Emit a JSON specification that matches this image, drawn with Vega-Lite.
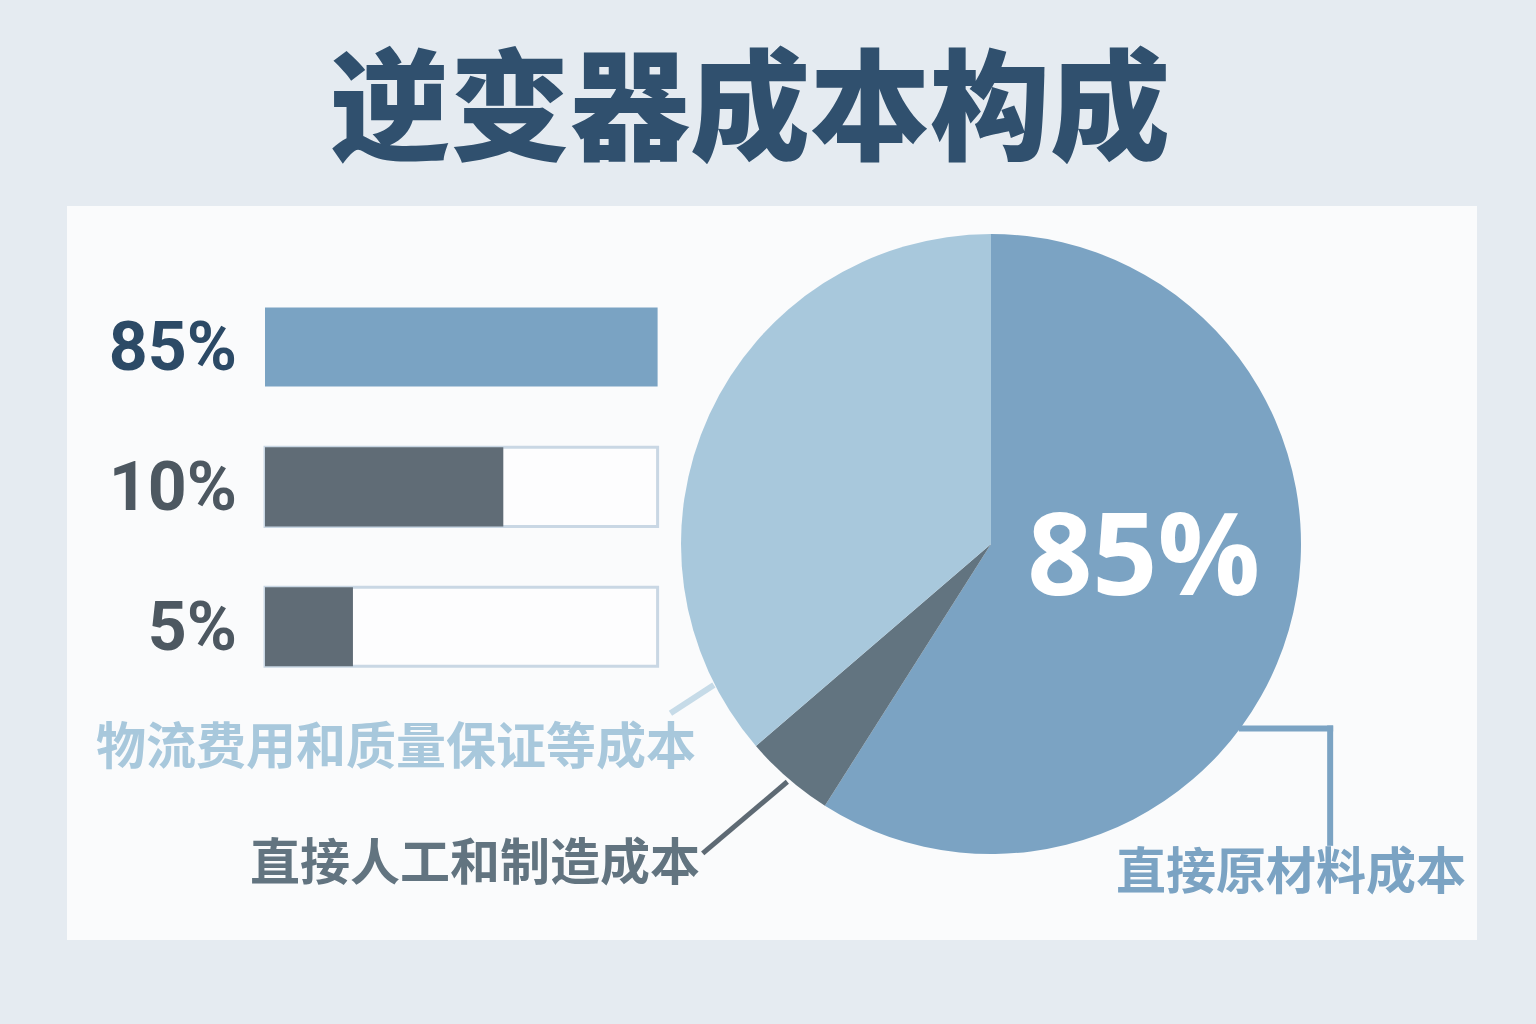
{
  "$schema": "https://vega.github.io/schema/vega-lite/v6.json",
  "background": "#e5ebf1",
  "padding": {"left": 67, "right": 59, "top": 0, "bottom": 84},
  "autosize": {"type": "pad"},
  "config": {"view": {"stroke": null}, "font": "Noto Sans CJK SC"},
  "datasets": {
    "costs": [
      {"part": "直接原材料成本", "stated": "85%", "rank": 1, "bar_fill": 1.0, "pie_share": 59.0},
      {"part": "直接人工和制造成本", "stated": "10%", "rank": 2, "bar_fill": 0.607, "pie_share": 4.7},
      {"part": "物流费用和质量保证等成本", "stated": "5%", "rank": 3, "bar_fill": 0.224, "pie_share": 36.3}
    ]
  },
  "spacing": 0,
  "bounds": "flush",
  "vconcat": [
    {
      "width": 1410,
      "height": 206,
      "data": {"values": [{"title": "逆变器成本构成"}]},
      "mark": {"type": "text", "font": "Noto Sans CJK SC", "fontWeight": 900, "fontSize": 120, "color": "#30506e", "align": "center", "baseline": "middle", "dx": -22, "dy": 12},
      "encoding": {"text": {"field": "title"}}
    },
    {
      "spacing": 0,
      "bounds": "flush",
      "hconcat": [
        {
          "width": 614,
          "height": 734,
          "view": {"fill": "#fafbfc"},
          "data": {"name": "costs"},
          "encoding": {
            "y": {
              "field": "stated",
              "type": "nominal",
              "axis": null,
              "scale": {"domain": ["85%", "10%", "5%"], "range": [71.1, 490.65], "paddingInner": 0.435, "paddingOuter": 0.2175}
            }
          },
          "layer": [
            {
              "mark": {"type": "bar", "fill": "#fdfdfe", "stroke": "#c9d7e4", "strokeWidth": 3},
              "encoding": {
                "x": {"datum": 0, "type": "quantitative", "axis": null, "scale": {"domain": [0, 1], "range": [198, 590.6], "nice": false}},
                "x2": {"datum": 1},
                "opacity": {"condition": {"test": "datum.rank === 1", "value": 0}, "value": 1}
              }
            },
            {
              "mark": {"type": "bar"},
              "encoding": {
                "x": {"field": "bar_fill", "type": "quantitative"},
                "color": {
                  "field": "stated",
                  "type": "nominal",
                  "legend": null,
                  "scale": {"domain": ["85%", "10%", "5%"], "range": ["#7aa3c3", "#606c76", "#606c76"]}
                }
              }
            },
            {
              "mark": {"type": "text", "font": "Roboto", "fontWeight": "bold", "fontSize": 68, "align": "right", "baseline": "middle", "dx": -28, "dy": 3},
              "encoding": {
                "x": {"datum": 0, "type": "quantitative"},
                "text": {"field": "stated"},
                "color": {
                  "field": "stated",
                  "type": "nominal",
                  "legend": null,
                  "scale": {"domain": ["85%", "10%", "5%"], "range": ["#2c4a66", "#4d5861", "#4d5861"]}
                }
              }
            }
          ],
          "resolve": {"scale": {"color": "independent"}}
        },
        {
          "width": 796,
          "height": 734,
          "view": {"fill": "#fafbfc"},
          "data": {"name": "costs"},
          "layer": [
            {
              "mark": {"type": "arc", "outerRadius": 310},
              "encoding": {
                "x": {"datum": 0, "type": "quantitative", "axis": null, "scale": {"domain": [-1, 1.5677], "nice": false, "zero": false}},
                "y": {"datum": 0, "type": "quantitative", "axis": null, "scale": {"domain": [-1.0903, 1.2774], "reverse": true, "nice": false, "zero": false}},
                "theta": {"field": "pie_share", "type": "quantitative", "stack": true},
                "order": {"field": "rank", "type": "quantitative"},
                "color": {
                  "field": "part",
                  "type": "nominal",
                  "legend": null,
                  "scale": {
                    "domain": ["直接原材料成本", "直接人工和制造成本", "物流费用和质量保证等成本"],
                    "range": ["#7ba3c3", "#627480", "#a8c8dc"]
                  }
                }
              }
            },
            {
              "mark": {"type": "text", "font": "Open Sans", "fontWeight": "bold", "fontSize": 114, "color": "#ffffff", "align": "center", "baseline": "middle", "dy": -27},
              "encoding": {
                "x": {"datum": 0, "type": "quantitative"},
                "y": {"datum": 0, "type": "quantitative"},
                "theta": {"field": "pie_share", "type": "quantitative", "stack": true},
                "order": {"field": "rank", "type": "quantitative"},
                "detail": {"field": "part"},
                "radius": {"value": 159},
                "text": {"field": "stated"},
                "opacity": {"condition": {"test": "datum.rank === 1", "value": 1}, "value": 0}
              }
            },
            {
              "data": {"values": [{}]},
              "mark": {"type": "rule", "color": "#c6dbe8", "strokeWidth": 6},
              "encoding": {
                "x": {"datum": -0.894, "type": "quantitative"},
                "y": {"datum": 0.455, "type": "quantitative"},
                "x2": {"datum": -1.034},
                "y2": {"datum": 0.546}
              }
            },
            {
              "data": {"values": [{}]},
              "mark": {"type": "rule", "color": "#5e6a74", "strokeWidth": 5},
              "encoding": {
                "x": {"datum": -0.657, "type": "quantitative"},
                "y": {"datum": 0.767, "type": "quantitative"},
                "x2": {"datum": -0.93},
                "y2": {"datum": 0.998}
              }
            },
            {
              "data": {"values": [{}]},
              "mark": {"type": "rule", "color": "#7ba3c3", "strokeWidth": 6, "strokeCap": "square"},
              "encoding": {
                "x": {"datum": 0.809, "type": "quantitative"},
                "y": {"datum": 0.595, "type": "quantitative"},
                "x2": {"datum": 1.094},
                "y2": {"datum": 0.595}
              }
            },
            {
              "data": {"values": [{}]},
              "mark": {"type": "rule", "color": "#7ba3c3", "strokeWidth": 6, "strokeCap": "square"},
              "encoding": {
                "x": {"datum": 1.094, "type": "quantitative"},
                "y": {"datum": 0.595, "type": "quantitative"},
                "x2": {"datum": 1.094},
                "y2": {"datum": 0.964}
              }
            },
            {
              "transform": [{"filter": "datum.rank === 3"}],
              "mark": {"type": "text", "fontWeight": "bold", "fontSize": 50, "align": "right", "baseline": "middle"},
              "encoding": {
                "x": {"datum": -0.952, "type": "quantitative"},
                "y": {"datum": 0.661, "type": "quantitative"},
                "text": {"field": "part"},
                "color": {"field": "part", "type": "nominal", "legend": null}
              }
            },
            {
              "transform": [{"filter": "datum.rank === 2"}],
              "mark": {"type": "text", "fontWeight": "bold", "fontSize": 50, "align": "right", "baseline": "middle"},
              "encoding": {
                "x": {"datum": -0.939, "type": "quantitative"},
                "y": {"datum": 1.035, "type": "quantitative"},
                "text": {"field": "part"},
                "color": {"field": "part", "type": "nominal", "legend": null}
              }
            },
            {
              "transform": [{"filter": "datum.rank === 1"}],
              "mark": {"type": "text", "fontWeight": "bold", "fontSize": 50, "align": "left", "baseline": "middle"},
              "encoding": {
                "x": {"datum": 0.403, "type": "quantitative"},
                "y": {"datum": 1.065, "type": "quantitative"},
                "text": {"field": "part"},
                "color": {"field": "part", "type": "nominal", "legend": null}
              }
            }
          ]
        }
      ]
    }
  ]
}
